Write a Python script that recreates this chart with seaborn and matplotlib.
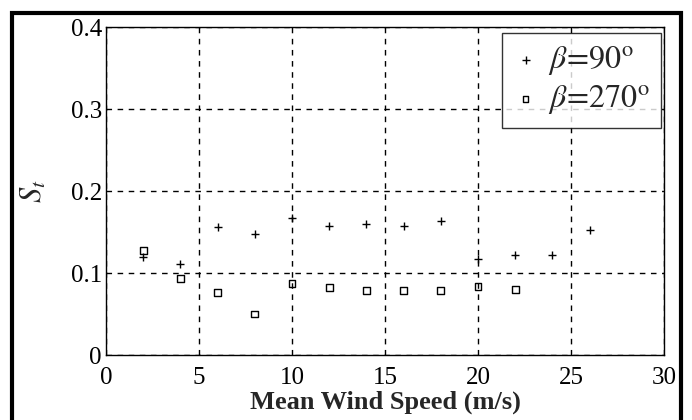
import numpy as np
import pandas as pd
import seaborn as sns
import matplotlib.pyplot as plt
from matplotlib.patches import Rectangle

# data
speed_90 = [2, 4, 6, 8, 10, 12, 14, 16, 18, 20, 22, 24, 26]
st_90 = [0.120, 0.111, 0.156, 0.148, 0.167, 0.157, 0.160, 0.157, 0.163, 0.117, 0.122, 0.122, 0.152]
speed_270 = [2, 4, 6, 8, 10, 12, 14, 16, 18, 20, 22]
st_270 = [0.127, 0.093, 0.076, 0.050, 0.087, 0.082, 0.079, 0.079, 0.079, 0.083, 0.080]

x_ticks = [0, 5, 10, 15, 20, 25, 30]
y_ticks = [0, 0.1, 0.2, 0.3, 0.4]
y_tick_labels = ["0", "0.1", "0.2", "0.3", "0.4"]

sns.set_style("white")
plt.rcParams["font.family"] = ["Liberation Serif", "DejaVu Serif"]
plt.rcParams["mathtext.fontset"] = "stix"

df90 = pd.DataFrame({"speed": speed_90, "st": st_90})
df270 = pd.DataFrame({"speed": speed_270, "st": st_270})

fig = plt.figure(figsize=(6.92, 4.2), dpi=100)
ax = fig.add_axes([106 / 692, 65 / 420, 558 / 692, 328 / 420])

sns.scatterplot(data=df90, x="speed", y="st", marker="+", s=40, color="black",
                linewidth=1.0, ax=ax, label=r"$\beta\!=\!90^{\mathrm{o}}$")
sns.scatterplot(data=df270, x="speed", y="st", marker="s", s=25, facecolors="none",
                edgecolor="black", linewidth=1.0, ax=ax, label=r"$\beta\!=\!270^{\mathrm{o}}$")

ax.set_xlim(0, 30)
ax.set_ylim(0, 0.4)
ax.set_xticks(x_ticks)
ax.set_yticks(y_ticks)
ax.set_yticklabels(y_tick_labels)
ax.tick_params(direction="in", length=4, labelsize=18, colors="black")
ax.tick_params(axis="x", pad=9)
ax.tick_params(axis="y", pad=3)
ax.grid(True, color="black", linestyle=(0, (4, 4)), linewidth=1.0)
for sp in ax.spines.values():
    sp.set_color("black")
    sp.set_linewidth(1.0)

ax.set_xlabel("Mean Wind Speed (m/s)", fontsize=19, fontweight="bold", labelpad=1)
ax.set_ylabel(r"$\boldsymbol{S_t}$", fontsize=22, labelpad=16)

leg = ax.legend(loc="upper right", bbox_to_anchor=(0.9946, 0.982), fontsize=23,
                frameon=True, fancybox=False, borderaxespad=0.0,
                handletextpad=0.3, handlelength=0.8, borderpad=0.35,
                labelspacing=0.2, markerscale=0.85)
leg.get_frame().set_edgecolor("black")
leg.get_frame().set_linewidth(1.0)

# outer frame around the figure
fig.patches.append(Rectangle((12 / 692, -0.05), 669 / 692, 1.05 - 13 / 420,
                             transform=fig.transFigure, fill=False,
                             edgecolor="black", linewidth=3))

fig.savefig("out.png", dpi=100)
